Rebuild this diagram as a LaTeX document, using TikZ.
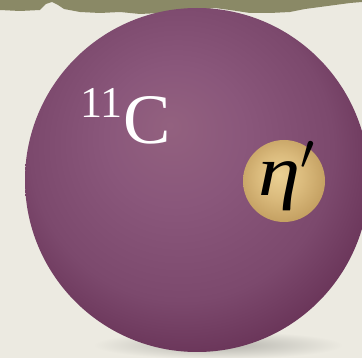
\RequirePackage{fix-cm}
\documentclass[tikz,border=0pt]{standalone}
\usepackage{graphicx}
\usepackage{fontspec}
\setmainfont{Liberation Serif}
\definecolor{paper}{HTML}{ECEAE1}
\definecolor{band}{HTML}{8A8966}
\definecolor{sphA}{HTML}{93617F}
\definecolor{sphB}{HTML}{8A577B}
\definecolor{sphC}{HTML}{7C496D}
\definecolor{sphD}{HTML}{6A3559}
\definecolor{sphE}{HTML}{5A284A}
\definecolor{goldA}{HTML}{EBD194}
\definecolor{goldB}{HTML}{DABA7C}
\definecolor{goldC}{HTML}{C29E60}
\definecolor{shadowc}{HTML}{B4B3AC}
\pgfdeclareradialshading{sphshade}{\pgfpoint{-4bp}{8bp}}{color(0bp)=(sphA);color(10bp)=(sphB);color(22bp)=(sphC);color(29bp)=(sphD);color(35bp)=(sphE);color(50bp)=(sphE)}
\pgfdeclareradialshading{goldshade}{\pgfpoint{-3bp}{4bp}}{color(0bp)=(goldA);color(14bp)=(goldB);color(28bp)=(goldC);color(50bp)=(goldC)}
\tikzset{
  label11/.style={inner sep=0pt, anchor=base west, text=white, font=\fontsize{44}{44}\selectfont},
  labelC/.style={inner sep=0pt, anchor=base west, text=white, font=\fontsize{71}{71}\selectfont},
  labeleta/.style={inner sep=0pt, anchor=base west, text=black, font=\fontsize{72}{72}\selectfont\itshape}
}
\begin{document}
\begin{tikzpicture}[x=1pt,y=-1pt]
\useasboundingbox (0,0) rectangle (362,358);
\fill[paper] (0,0) rectangle (362,358);
% torn band at top
\fill[band] (0,0) -- (0,10) -- (20,11) -- (40,10) -- (46,4) -- (52,2) -- (58,5) -- (64,9) -- (80,12) -- (100,13)
  -- (120,12) -- (140,14) -- (160,13) -- (180,11) -- (200,10) -- (215,8) -- (230,10) -- (250,13) -- (270,13)
  -- (290,12) -- (305,9) -- (320,7) -- (335,5) -- (350,3) -- (362,2) -- (362,0) -- cycle;
% shadow
\shade[inner color=shadowc, outer color=paper] (218,345) ellipse [x radius=125, y radius=14];
% sphere
\path[shading=sphshade] (197,180) circle [radius=172];
\node[circle, inner sep=0pt, minimum size=344pt] (nucleus) at (197,180) {};
% eta ball
\path[shading=goldshade] (284,181) circle [radius=41];
\node[circle, inner sep=0pt, minimum size=82pt] (meson) at (284,181) {};
% labels
\node[label11] (mass) at (80,118) {11};
\node[labelC] (elem) at (123,144) {C};
\node[labeleta] (eta) at (258,196) {\scalebox{1.18}[1]{η}$'$};
\end{tikzpicture}
\end{document}
